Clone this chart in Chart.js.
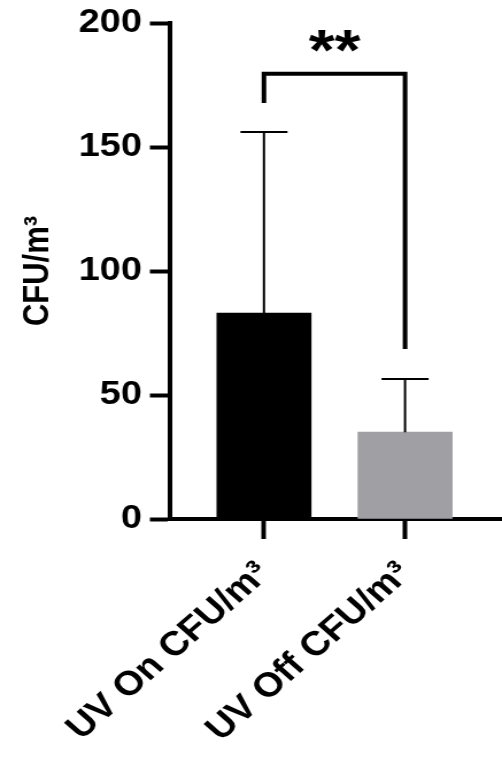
<!DOCTYPE html>
<html>
<head>
<meta charset="utf-8">
<script src="https://cdn.jsdelivr.net/npm/chart.js@4"></script>
<style>
  body { margin: 0; background: #fff; overflow: hidden; }
  /* the original figure is a bit wider than tall-text Arial, so stretch the drawing sideways */
  #wrap { width: 437px; height: 767px; transform: scaleX(1.1487); transform-origin: 0 0; }
</style>
</head>
<body>
<div id="wrap"><canvas id="barChart"></canvas></div>
<script>
// Data
const categories = ["UV On CFU/m³", "UV Off CFU/m³"];
const means = [83, 35];
const errors = [73, 21.5];           // upper error (SD)
const barColors = ["#000000", "#a09fa4"];
const yTicks = [0, 50, 100, 150, 200];

// significance bracket (in y units)
const bracketTop = 179.5;
const bracketEnds = [167.7, 68.5];
const sigText = "**";
const sigY = 181;

Chart.defaults.font.family = "'Liberation Sans', Arial, sans-serif";
Chart.defaults.color = "#000";

// Error bars + bracket
const extras = {
  id: "extras",
  afterDatasetsDraw(chart) {
    const ctx = chart.ctx;
    const x = chart.scales.x;
    const y = chart.scales.y;
    ctx.save();
    ctx.strokeStyle = "#000";

    // error bars, upper half only
    ctx.lineWidth = 2;
    means.forEach((m, i) => {
      const cx = x.getPixelForValue(i + 1);
      const y0 = y.getPixelForValue(m);
      const y1 = y.getPixelForValue(m + errors[i]);
      ctx.beginPath();
      ctx.moveTo(cx, y0);
      ctx.lineTo(cx, y1);
      ctx.moveTo(cx - 20.5, y1);
      ctx.lineTo(cx + 20.5, y1);
      ctx.stroke();
    });

    // bracket
    const xa = x.getPixelForValue(1);
    const xb = x.getPixelForValue(2);
    ctx.lineWidth = 4;
    ctx.lineJoin = "miter";
    ctx.beginPath();
    ctx.moveTo(xa, y.getPixelForValue(bracketEnds[0]));
    ctx.lineTo(xa, y.getPixelForValue(bracketTop));
    ctx.lineTo(xb, y.getPixelForValue(bracketTop));
    ctx.lineTo(xb, y.getPixelForValue(bracketEnds[1]));
    ctx.stroke();

    ctx.fillStyle = "#000";
    ctx.font = "bold 58px 'Liberation Sans', Arial, sans-serif";
    ctx.textAlign = "center";
    ctx.textBaseline = "alphabetic";
    ctx.fillText(sigText, x.getPixelForValue(1.5), y.getPixelForValue(sigY));
    ctx.restore();
  }
};

new Chart(document.getElementById("barChart"), {
  type: "bar",
  data: {
    datasets: [{
      data: means.map((m, i) => ({ x: i + 1, y: m })),
      backgroundColor: barColors,
      borderWidth: 0,
      barThickness: 82
    }]
  },
  options: {
    responsive: true,
    maintainAspectRatio: false,
    animation: false,
    layout: { padding: { top: 23, left: 0, right: 0, bottom: 0 } },
    plugins: { legend: { display: false }, tooltip: { enabled: false } },
    scales: {
      x: {
        type: "linear",
        offset: false,
        min: 0.334,
        max: 2.687,
        afterBuildTicks: s => { s.ticks = categories.map((c, i) => ({ value: i + 1 })); },
        afterFit: s => { s.height = 248; s.paddingLeft = 0; s.paddingRight = 0; },
        ticks: {
          callback: (v, i) => categories[i],
          autoSkip: false,
          minRotation: 45,
          maxRotation: 45,
          padding: 15,
          font: { size: 34, weight: "bold" }
        },
        grid: { offset: false, drawOnChartArea: false, tickLength: 20, tickWidth: 4, tickColor: "#000" },
        border: { width: 4, color: "#000" }
      },
      y: {
        min: 0,
        max: 200,
        afterBuildTicks: s => { s.ticks = yTicks.map(v => ({ value: v })); },
        afterFit: s => { s.width = 148; s.paddingTop = 0; s.paddingBottom = 0; },
        ticks: { padding: 7, font: { size: 33, weight: "bold" } },
        grid: { drawOnChartArea: false, tickLength: 17.5, tickWidth: 4, tickColor: "#000" },
        border: { width: 4, color: "#000" },
        title: {
          display: true,
          text: "CFU/m³",
          font: { size: 31, weight: "bold" },
          padding: { top: 15, bottom: 0 }
        }
      }
    }
  },
  plugins: [extras]
});
</script>
</body>
</html>
